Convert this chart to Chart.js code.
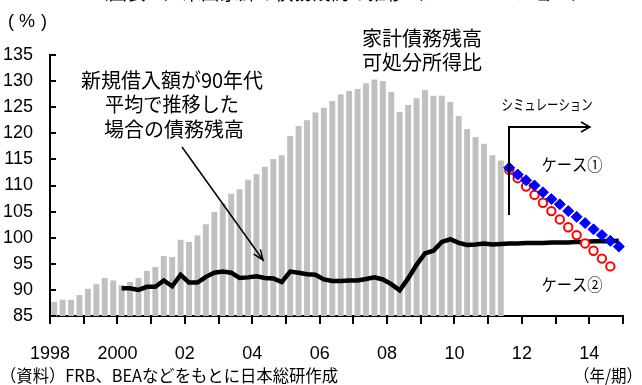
<!DOCTYPE html>
<html>
<head>
<meta charset="utf-8">
<script src="https://cdn.jsdelivr.net/npm/chart.js@4/dist/chart.umd.min.js"></script>
<style>
  html, body { margin: 0; padding: 0; background: #ffffff; }
  #wrap { width: 642px; height: 385px; }
</style>
</head>
<body>
<div id="wrap"><canvas id="c" width="642" height="385"></canvas></div>
<script>
// Quarterly axis: 1998Q1 .. 2014Q4
const startYear = 1998;
const endYear = 2014;
const quarters = [];
for (let y = startYear; y <= endYear; y++) {
  for (let q = 1; q <= 4; q++) quarters.push(y + 'Q' + q);
}

// Year tick labels (one tick per year, 1998 .. 2015)
const yearTickLabels = ['1998', '', '2000', '', '02', '', '04', '', '06', '', '08', '', '10', '', '12', '', '14', ''];
// Value-axis ticks (%)
const yTicks = [85, 90, 95, 100, 105, 110, 115, 120, 125, 130, 135];

// Household debt / disposable income (%), 1998Q1 .. 2011Q2
const debtRatio = [
  87.7, 88.1, 88.1, 89.0, 90.2, 91.1, 92.3, 91.8,
  90.9, 91.5, 92.3, 93.6, 94.4, 96.5, 96.3, 99.6,
  99.2, 100.4, 102.6, 104.9, 106.6, 108.4, 109.3, 111.1,
  112.2, 113.6, 115.1, 115.8, 119.5, 121.4, 122.5, 124.0,
  124.9, 126.2, 127.5, 128.1, 128.5, 129.6, 130.3, 130.0,
  127.9, 124.1, 125.4, 126.7, 128.3, 127.2, 127.2, 126.0,
  123.3, 120.8, 119.3, 118.0, 115.8, 114.8
];
const debtStart = '1998Q1';

// Debt ratio if new borrowing had stayed at the 1990s average, 2000Q1 .. 2014Q4
const ninetiesPace = [
  90.3, 90.3, 90.0, 90.6, 90.6, 91.8, 90.7, 92.9,
  91.4, 91.4, 92.5, 93.3, 93.5, 93.3, 92.3, 92.4,
  92.6, 92.3, 92.2, 91.5, 93.5, 93.3, 93.0, 92.9,
  92.0, 91.7, 91.7, 91.8, 91.8, 92.1, 92.4, 92.0,
  91.1, 89.9, 92.2, 94.8, 97.0, 97.5, 99.2, 99.7,
  99.0, 98.6, 98.7, 98.9, 98.7, 98.8, 98.9, 98.9,
  99.0, 99.0, 99.0, 99.1, 99.1, 99.1, 99.2, 99.2,
  99.3, 99.3, 99.3, 99.4
];
const ninetiesStart = '2000Q1';

// Simulation, case 1: 2011Q3 .. 2014Q4
const case1 = [113.4, 112.1, 111.0, 110.0, 108.7, 107.4, 106.4, 105.1, 104.0, 102.8, 101.6, 100.5, 99.4, 98.3];
// Simulation, case 2: 2011Q3 .. 2014Q3
const case2 = [113.0, 111.4, 109.8, 108.2, 106.7, 105.1, 103.5, 102.0, 100.5, 98.9, 97.5, 96.0, 94.5];
const simStart = '2011Q3';

// Place a series on the full quarterly axis
function place(values, start) {
  const out = quarters.map(() => null);
  const s = quarters.indexOf(start);
  values.forEach((v, i) => { out[s + i] = v; });
  return out;
}

const JP = '"Noto Sans CJK JP", "Noto Sans", sans-serif';
const NUM = '"Liberation Sans", Arial, sans-serif';

// Text, arrows and axis tick marks drawn on top of the plot
const overlay = {
  id: 'overlay',
  afterDraw(chart) {
    const ctx = chart.ctx;
    const ys = chart.scales.y;
    const xs = chart.scales.xYear;
    ctx.save();
    ctx.fillStyle = '#000';
    ctx.textBaseline = 'middle';
    function text(s, x, y, size, align, maxW, family) {
      ctx.font = size + 'px ' + (family || JP);
      ctx.textAlign = align || 'center';
      if (maxW) ctx.fillText(s, x, y, maxW); else ctx.fillText(s, x, y);
    }

    // heading (runs off the top edge)
    text('（図表　）米国家計の債務残高の推移（シミュレーション）', 340, -7, 19, 'center', 500);

    // unit label
    text('(', 11, 22, 18, 'center', 0, NUM);
    text('%', 27, 22, 18, 'center', 0, NUM);
    text(')', 44, 22, 18, 'center', 0, NUM);

    text('家計債務残高', 422, 38, 20, 'center', 126);
    text('可処分所得比', 422, 62, 20, 'center', 126);

    text('新規借入額が90年代', 172, 80, 20, 'center', 190);
    text('平均で推移した', 172, 104.5, 20, 'center', 134);
    text('場合の債務残高', 174, 129.5, 20, 'center', 148);

    text('シミュレーション', 547, 104, 15, 'center', 91);
    text('ケース①', 572, 165, 17, 'center', 61);
    text('ケース②', 572, 285, 17, 'center', 61);

    text('（資料）FRB、BEAなどをもとに日本総研作成', 0, 375.5, 17, 'left', 338);
    text('（年/期）', 642, 375.5, 17, 'right', 68);

    // pointer from the annotation to the line
    ctx.lineWidth = 1.5;
    ctx.strokeStyle = '#000';
    const x0 = 182, y0 = 147, x1 = 263, y1 = 260;
    ctx.beginPath();
    ctx.moveTo(x0, y0);
    ctx.lineTo(x1, y1);
    ctx.stroke();
    const ang = Math.atan2(y1 - y0, x1 - x0);
    const h = 11, spread = 0.38;
    ctx.beginPath();
    ctx.moveTo(x1 - h * Math.cos(ang - spread), y1 - h * Math.sin(ang - spread));
    ctx.lineTo(x1, y1);
    ctx.lineTo(x1 - h * Math.cos(ang + spread), y1 - h * Math.sin(ang + spread));
    ctx.stroke();

    // simulation bracket arrow
    ctx.lineWidth = 2;
    ctx.beginPath();
    ctx.moveTo(509, 215);
    ctx.lineTo(509, 127);
    ctx.lineTo(590, 127);
    ctx.stroke();
    ctx.lineWidth = 1.5;
    ctx.beginPath();
    ctx.moveTo(581, 122);
    ctx.lineTo(590, 127);
    ctx.lineTo(581, 132);
    ctx.stroke();

    // tick marks: inside on the value axis, outside on the year axis
    ctx.fillStyle = 'rgb(0,0,0)';
    const left = Math.round(xs.left);
    const bottom = Math.round(ys.bottom);
    yTicks.forEach(v => {
      const py = Math.round(ys.getPixelForValue(v));
      ctx.fillRect(left - 1, py - 1, 7, 2);
    });
    yearTickLabels.forEach((_, i) => {
      const px = Math.round(xs.getPixelForValue(startYear + i));
      ctx.fillRect(px - 1, bottom - 1, 2, 9);
    });

    ctx.restore();
  }
};

new Chart(document.getElementById('c'), {
  type: 'bar',
  data: {
    labels: quarters,
    datasets: [
      {
        type: 'line',
        label: 'ケース①',
        data: place(case1, simStart),
        showLine: false,
        pointStyle: 'rectRot',
        pointRadius: 5.5,
        pointBackgroundColor: '#0000ff',
        pointBorderColor: '#0000ff',
        pointBorderWidth: 1,
        order: 0
      },
      {
        type: 'line',
        label: 'ケース②',
        data: place(case2, simStart),
        showLine: false,
        pointStyle: 'circle',
        pointRadius: 4.2,
        pointBackgroundColor: '#ffffff',
        pointBorderColor: '#ff0000',
        pointBorderWidth: 2,
        order: 1
      },
      {
        type: 'line',
        label: '新規借入額が90年代平均で推移した場合の債務残高',
        data: place(ninetiesPace, ninetiesStart),
        borderColor: '#000000',
        borderWidth: 4.5,
        pointRadius: 0,
        tension: 0,
        spanGaps: false,
        order: 2
      },
      {
        label: '家計債務残高可処分所得比',
        data: place(debtRatio, debtStart),
        backgroundColor: '#c0c0c0',
        borderWidth: 0,
        barPercentage: 0.7,
        categoryPercentage: 1.0,
        order: 3
      }
    ]
  },
  options: {
    responsive: false,
    devicePixelRatio: 1,
    animation: false,
    layout: { padding: { top: 55, right: 19, left: 0, bottom: 0 } },
    plugins: { legend: { display: false }, tooltip: { enabled: false } },
    scales: {
      x: {
        type: 'category',
        display: false,
        offset: true,
        grid: { offset: true }
      },
      xYear: {
        type: 'linear',
        axis: 'x',
        position: 'bottom',
        offset: false,
        min: startYear,
        max: endYear + 1,
        afterBuildTicks(scale) {
          scale.ticks = yearTickLabels.map((_, i) => ({ value: startYear + i }));
        },
        afterFit(scale) { scale.height = 69; },
        ticks: {
          autoSkip: false,
          maxRotation: 0,
          padding: 19,
          color: '#000',
          font: { family: NUM, size: 18 },
          callback: (v) => yearTickLabels[Math.round(v) - startYear]
        },
        grid: { display: false },
        border: { display: true, color: '#000', width: 2 }
      },
      y: {
        min: 85,
        max: 135,
        afterFit(scale) { scale.width = 50; },
        ticks: {
          stepSize: 5,
          padding: 17,
          color: '#000',
          font: { family: NUM, size: 18 }
        },
        grid: { drawOnChartArea: false, drawTicks: false },
        border: { display: true, color: '#000', width: 2 }
      }
    }
  },
  plugins: [overlay]
});
</script>
</body>
</html>
